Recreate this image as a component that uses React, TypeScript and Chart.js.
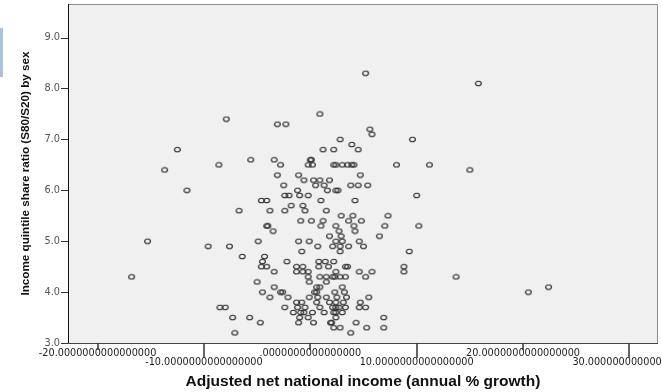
import React, { useEffect, useRef } from "react";
import { Chart, registerables } from "chart.js";

Chart.register(...registerables);

// Income quintile share ratio (S80/S20) levels and the growth values observed at each level
const RATIO_LEVELS = [
  8.3, 8.1, 7.5, 7.4, 7.3, 7.2, 7.1, 7.0, 6.9, 6.8, 6.6, 6.5, 6.4, 6.3, 6.2, 6.1, 6.0, 5.9, 5.8, 5.7, 5.6, 5.5,
  5.4, 5.3, 5.2, 5.1, 5.0, 4.9, 4.8, 4.7, 4.6, 4.5, 4.4, 4.3, 4.2, 4.1, 4.0, 3.9, 3.8, 3.7, 3.6, 3.5, 3.4, 3.3, 3.2,
];

const GROWTH_BY_LEVEL: number[][] = [
  [5.2],
  [15.8],
  [0.9],
  [-7.9],
  [-3.1, -2.3],
  [5.6],
  [5.8],
  [2.8, 9.6],
  [3.9],
  [-12.5, 1.2, 2.2, 4.5],
  [-5.6, -3.4, 0.0, 0.1],
  [-8.6, -2.8, -0.2, 0.2, 2.2, 2.4, 3.0, 3.5, 3.9, 4.1, 8.1, 11.2],
  [-13.7, 15.0],
  [-3.1, -1.1, 4.7],
  [-0.6, 0.3, 0.9, 1.8],
  [-2.5, 0.5, 1.3, 3.8, 4.5, 5.4],
  [-11.6, -1.2, 1.6, 2.4, 2.6],
  [-2.4, -2.0, -1.0, -0.2, 10.0],
  [-4.6, -4.1, 1.0, 4.2],
  [-1.8, -0.7],
  [-6.7, -3.8, -2.4, -0.5, 1.5],
  [2.9, 4.0, 7.3],
  [-0.9, 0.1, 1.2, 3.6, 4.8],
  [-4.1, -4.0, 1.0, 2.4, 4.1, 7.0, 10.2],
  [-3.5, 2.7, 4.2],
  [1.8, 2.9, 6.5],
  [-15.3, -4.9, -1.1, -0.1, 2.4, 3.0, 4.6],
  [-9.6, -7.6, 0.7, 2.1, 2.8, 3.6, 5.0],
  [-0.8, 2.8, 9.3],
  [-6.4, -4.3],
  [-4.5, -2.2, 0.8, 1.4, 2.2],
  [-4.6, -4.1, -1.3, -0.7, 0.8, 1.7, 3.3, 3.5, 8.8],
  [-3.4, -1.3, -0.7, -0.2, 2.4, 4.6, 5.8, 8.8],
  [-16.8, -0.2, 0.9, 1.5, 2.1, 2.3, 2.8, 3.3, 5.2, 13.7],
  [-5.0, -0.1, 1.5],
  [-3.4, 0.6, 0.9, 3.0, 22.4],
  [-4.5, -2.8, -2.6, 0.4, 0.6, 2.3, 3.2, 20.5],
  [-3.8, -2.1, -0.1, 0.7, 1.5, 2.5, 3.4, 5.5],
  [-1.3, -0.8, 0.6, 1.8, 2.4, 3.1, 4.7],
  [-8.5, -8.0, -2.4, -1.2, -0.5, 0.9, 2.1, 2.4, 2.7, 3.3, 4.6, 5.2],
  [-1.6, -0.9, -0.6, 0.2, 1.3, 2.2, 2.4, 3.0],
  [-7.3, -5.7, -1.0, -0.2, 2.4, 6.9],
  [-4.7, -1.1, 0.3, 1.9, 2.0, 4.3],
  [2.2, 2.8, 5.3, 6.9],
  [-7.1, 3.8],
];

// Axis ranges and tick labels
const X_MIN = -22.78;
const X_MAX = 32.69;
const Y_MIN = 3;
const Y_MAX = 9.66;
const X_TICK_LABELS = [
  "-20.0000000000000000",
  "-10.0000000000000000",
  ".0000000000000000",
  "10.0000000000000000",
  "20.0000000000000000",
  "30.0000000000000000",
];
const Y_TICK_LABELS = ["3.0", "4.0", "5.0", "6.0", "7.0", "8.0", "9.0"];

const X_TITLE = "Adjusted net national income (annual % growth)";
const Y_TITLE = "Income quintile share ratio (S80/S20) by sex";

const W = 662;
const H = 392;

function makeMarker(): HTMLCanvasElement {
  const c = document.createElement("canvas");
  c.width = 9;
  c.height = 7;
  const g = c.getContext("2d")!;
  g.strokeStyle = "#2e2e2e";
  g.lineWidth = 1.15;
  g.beginPath();
  g.ellipse(4.5, 3.5, 2.9, 2.25, 0, 0, Math.PI * 2);
  g.stroke();
  return c;
}

// Plot panel: light grey fill, frame and staggered tick marks
const panelPlugin = {
  id: "panel",
  beforeDatasetsDraw(chart: any) {
    const { ctx, chartArea: a } = chart;
    ctx.save();
    ctx.fillStyle = "#f0f0f0";
    ctx.fillRect(a.left, a.top, a.right - a.left, a.bottom - a.top);
    ctx.restore();
  },
  afterDraw(chart: any) {
    const { ctx, chartArea: a, scales } = chart;
    ctx.save();
    ctx.lineWidth = 1;
    ctx.strokeStyle = "#8c8c8c";
    ctx.beginPath();
    ctx.moveTo(a.left, a.top + 0.5);
    ctx.lineTo(a.right - 0.5, a.top + 0.5);
    ctx.lineTo(a.right - 0.5, a.bottom);
    ctx.stroke();

    ctx.strokeStyle = "#111";
    ctx.beginPath();
    ctx.moveTo(a.left + 0.5, a.top);
    ctx.lineTo(a.left + 0.5, a.bottom + 0.5);
    ctx.stroke();
    ctx.strokeStyle = "#444";
    ctx.beginPath();
    ctx.moveTo(a.left, a.bottom + 0.5);
    ctx.lineTo(a.right, a.bottom + 0.5);
    ctx.stroke();

    ctx.strokeStyle = "#333";
    ctx.lineWidth = 1.5;
    scales.x.ticks.forEach((t: any, i: number) => {
      const px = Math.round(scales.x.getPixelForValue(t.value));
      ctx.beginPath();
      ctx.moveTo(px, a.bottom);
      ctx.lineTo(px, a.bottom + (i % 2 === 0 ? 7 : 15));
      ctx.stroke();
    });
    ctx.lineWidth = 1;
    scales.y.ticks.forEach((t: any) => {
      const py = Math.round(scales.y.getPixelForValue(t.value)) + 0.5;
      ctx.beginPath();
      ctx.moveTo(a.left - 7, py);
      ctx.lineTo(a.left, py);
      ctx.stroke();
    });
    ctx.restore();
  },
};

export default function App() {
  const ref = useRef<HTMLCanvasElement | null>(null);

  useEffect(() => {
    if (!ref.current) return;
    const marker = makeMarker();
    const points = RATIO_LEVELS.flatMap((r, i) => GROWTH_BY_LEVEL[i].map((g) => ({ x: g, y: r })));

    const chart = new Chart(ref.current, {
      type: "scatter",
      data: {
        datasets: [
          {
            data: points,
            pointStyle: marker as any,
            pointRadius: 3,
            pointHoverRadius: 3,
          },
        ],
      },
      options: {
        animation: false,
        responsive: false,
        maintainAspectRatio: false,
        devicePixelRatio: 1,
        layout: { padding: { top: 4, right: 1, left: 0, bottom: 0 } },
        plugins: { legend: { display: false }, tooltip: { enabled: false } },
        scales: {
          x: {
            type: "linear",
            min: X_MIN,
            max: X_MAX,
            border: { display: false },
            grid: { display: false, drawTicks: false },
            ticks: {
              stepSize: 10,
              includeBounds: false,
              autoSkip: false,
              maxRotation: 0,
              minRotation: 0,
              padding: 6,
              color: "#222",
              font: { family: "'DejaVu Sans', sans-serif", size: 9.7, lineHeight: 0.93 },
              callback: (_v: any, i: number) => (i % 2 === 0 ? X_TICK_LABELS[i] : ["", X_TICK_LABELS[i]]),
            },
            title: {
              display: true,
              text: X_TITLE,
              color: "#111",
              font: { family: "'Liberation Sans', Arial, sans-serif", size: 15.5, weight: "bold", lineHeight: 1.1 },
              padding: { top: 0, bottom: 1.5 },
            },
            afterFit(scale: any) {
              scale.height = 49;
              scale.paddingLeft = 0;
              scale.paddingRight = 0;
            },
          },
          y: {
            type: "linear",
            min: Y_MIN,
            max: Y_MAX,
            border: { display: false },
            grid: { display: false, drawTicks: false },
            ticks: {
              stepSize: 1,
              includeBounds: false,
              padding: 8,
              color: "#555",
              font: { family: "'DejaVu Sans', sans-serif", size: 9.8 },
              callback: (_v: any, i: number) => Y_TICK_LABELS[i],
            },
            title: {
              display: true,
              text: Y_TITLE,
              color: "#111",
              font: { family: "'Liberation Sans', Arial, sans-serif", size: 11.7, weight: "bold", lineHeight: 1.2 },
              padding: { top: 19, bottom: 0 },
            },
            afterFit(scale: any) {
              scale.width = 68;
              scale.paddingTop = 0;
              scale.paddingBottom = 0;
            },
          },
        },
      },
      plugins: [panelPlugin],
    });

    return () => chart.destroy();
  }, []);

  return (
    <div style={{ position: "fixed", left: 0, top: 0, width: W, height: H, background: "#fff" }}>
      <canvas ref={ref} width={W} height={H} style={{ width: W, height: H, display: "block" }} />
      <div style={{ position: "absolute", left: 0, top: 28, width: 3, height: 49, background: "#a7c3df" }} />
    </div>
  );
}
